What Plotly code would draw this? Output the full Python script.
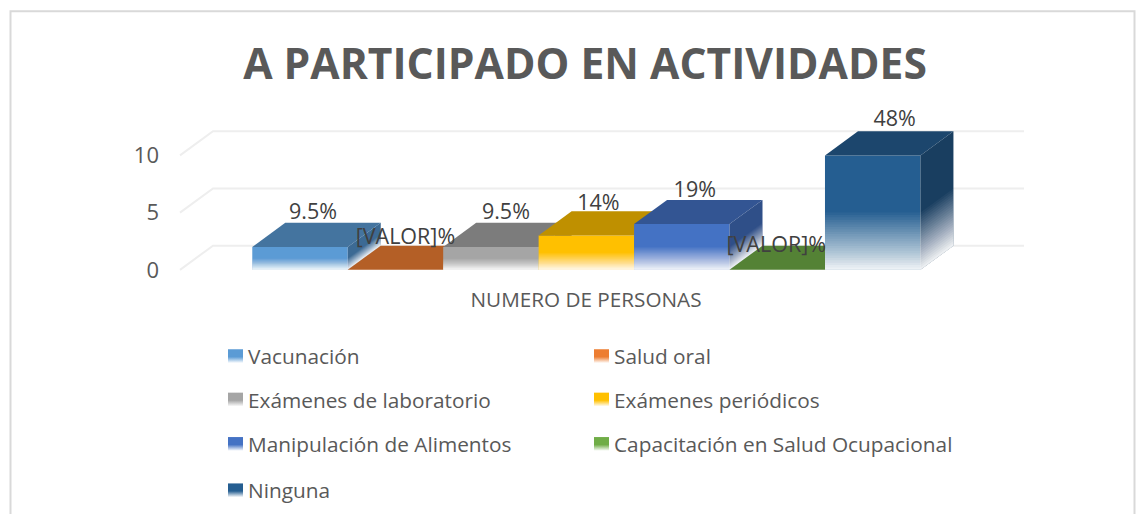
import plotly.graph_objects as go

# ---- data ----
categories = ["Vacunación", "Salud oral", "Exámenes de laboratorio", "Exámenes periódicos",
              "Manipulación de Alimentos", "Capacitación en Salud Ocupacional", "Ninguna"]
values = [2, 0, 2, 3, 4, 0, 10]
labels = ["9.5%", "[VALOR]%", "9.5%", "14%", "19%", "[VALOR]%", "48%"]
y_ticks = [0, 5, 10]
axis_title = "NUMERO DE PERSONAS"
chart_title = "A PARTICIPADO EN ACTIVIDADES"

# ---- style ----
front = ["#5b9bd5", "#ed7d31", "#a5a5a5", "#ffc000", "#4472c4", "#70ad47", "#255e91"]
top_c = ["#44749f", "#b45f26", "#7c7c7c", "#bf9000", "#335593", "#548235", "#1c466d"]
side_c = ["#3c6a94", "#a55722", "#717171", "#ae8300", "#2f4f88", "#4d7731", "#193e60"]
W, H = 1145, 521
PL, PR, PT, PB = 148, 1024, 90, 280   # plot box in pixels
XPX = 95.45  # px per category
YPX = 11.6   # px per unit
X0PX, Y0PX = 300, 273.5
xrange_ = [(PL - X0PX) / XPX, (PR - X0PX) / XPX]
yrange_ = [(Y0PX - PB) / YPX, (Y0PX - PT) / YPX]
DX = 33 / XPX    # depth offset in x units
DY = 24.5 / YPX  # depth offset in y units
HW = 0.5
# label offsets from the back-top edge, in pixels
label_dx = [13, 10, 15, 12, 13, -1, 22]
label_dy = [9.5, 7, 9.5, 7, 8.5, -1, 11]
FONT = "Open Sans"

fig = go.Figure()

# receding gridlines
gx, gy = [], []
g_left = (180 - X0PX) / XPX
g_right = (1024 - X0PX) / XPX
for t in y_ticks:
    gx += [g_left, g_left + DX, g_right, None]
    gy += [t, t + DY, t + DY, None]
fig.add_trace(go.Scatter(x=gx, y=gy, mode="lines", line=dict(color="#eeeeee", width=2),
                         hoverinfo="skip", showlegend=False, cliponaxis=False))

N_BANDS = 24
MAX_VEIL = 0.92
for i, (name, v) in enumerate(zip(categories, values)):
    xa = "x" if i == 0 else f"x{i+1}"
    l, r = i - HW, i + HW
    fig.add_trace(go.Bar(x=[i], y=[v], width=1, name=name, xaxis=xa, yaxis="y",
                         marker=dict(color=front[i], line=dict(width=0)), showlegend=False))
    # top face
    fig.add_trace(go.Scatter(x=[l, l + DX, r + DX, r, l], y=[v, v + DY, v + DY, v, v],
                             mode="lines", line=dict(width=0), fill="toself", fillcolor=top_c[i],
                             xaxis=xa, yaxis="y", hoverinfo="skip", showlegend=False, cliponaxis=False))
    if v > 0:
        # side face
        fig.add_trace(go.Scatter(x=[r, r + DX, r + DX, r, r], y=[0, DY, v + DY, v, 0],
                                 mode="lines", line=dict(width=0), fill="toself", fillcolor=side_c[i],
                                 xaxis=xa, yaxis="y", hoverinfo="skip", showlegend=False, cliponaxis=False))
        # fade towards the floor: stacked white veils building a linear ramp
        prev = 0.0
        for k in range(1, N_BANDS + 1):
            target = MAX_VEIL * k / N_BANDS
            alpha = 1 - (1 - target) / (1 - prev)
            prev = target
            lv = v * 0.5 * (N_BANDS - k + 1) / N_BANDS
            fig.add_trace(go.Scatter(x=[l, r, r + DX, r + DX, r, l, l],
                                     y=[0, 0, DY, lv + DY, lv, lv, 0],
                                     mode="lines", line=dict(width=0), fill="toself",
                                     fillcolor=f"rgba(255,255,255,{alpha:.4f})",
                                     xaxis=xa, yaxis="y", hoverinfo="skip", showlegend=False, cliponaxis=False))

# data labels on top of everything
fig.add_trace(go.Scatter(
    x=[i + label_dx[i] / XPX for i in range(len(values))],
    y=[values[i] + DY + label_dy[i] / YPX for i in range(len(values))],
    text=labels, mode="text", textposition="middle center",
    textfont=dict(family=FONT, size=21.5, color="#404040"),
    xaxis="x7", yaxis="y", hoverinfo="skip", showlegend=False, cliponaxis=False))

# legend drawn in a pixel-space helper axis
leg_col_sw = [228, 594]
leg_col_tx = [246, 612]
leg_rows = [361, 405, 450, 497]
annotations = []
for i, name in enumerate(categories):
    row, col = i // 2, i % 2
    sx, cy = leg_col_sw[col], leg_rows[row]
    fig.add_trace(go.Scatter(x=[sx, sx + 15, sx + 15, sx, sx], y=[cy - 7, cy - 7, cy + 7, cy + 7, cy - 7],
                             mode="lines", line=dict(width=0), fill="toself",
                             fillgradient=dict(type="vertical",
                                               colorscale=[[0, "#ffffff"], [0.45, front[i]], [1, front[i]]]),
                             xaxis="x8", yaxis="y2", hoverinfo="skip", showlegend=False))
    annotations.append(dict(x=leg_col_tx[col], y=cy, xref="x8", yref="y2", text=name, showarrow=False,
                            xanchor="left", yanchor="middle",
                            font=dict(family=FONT, size=20.8, color="#595959")))

axis_base = dict(range=xrange_, domain=[PL / W, PR / W], showgrid=False, zeroline=False, showline=False,
                 showticklabels=False, ticks="", fixedrange=True)
layout = dict(
    width=W, height=H, autosize=False,
    margin=dict(l=0, r=0, t=0, b=0, pad=0),
    paper_bgcolor="white", plot_bgcolor="rgba(0,0,0,0)",
    barmode="overlay", showlegend=False,
    title=dict(text=f"<b>{chart_title}</b>", x=585 / W, xanchor="center", y=1 - 64 / H, yanchor="middle",
               font=dict(family=FONT, size=42.6, color="#595959")),
    xaxis=dict(**axis_base, anchor="y",
               title=dict(text=axis_title, standoff=16, font=dict(family=FONT, size=20.7, color="#595959"))),
    yaxis=dict(range=yrange_, domain=[1 - PB / H, 1 - PT / H], showgrid=False, zeroline=False, showline=False,
               tickvals=y_ticks, ticks="", ticklabelstandoff=3, anchor="free", position=162 / W,
               tickfont=dict(family=FONT, size=22, color="#595959"), fixedrange=True),
    xaxis8=dict(range=[0, W], domain=[0, 1], anchor="y2", visible=False, fixedrange=True),
    yaxis2=dict(range=[H, 0], domain=[0, 1], anchor="x8", visible=False, fixedrange=True),
    annotations=annotations,
    shapes=[dict(type="rect", xref="x8", yref="y2", x0=10.5, x1=1134.5, y0=11.5, y1=540,
                 line=dict(color="#d9d9d9", width=2), fillcolor="rgba(0,0,0,0)", layer="below")],
)
for k in range(2, 8):
    layout[f"xaxis{k}"] = dict(**axis_base, overlaying="x", anchor="y")
fig.update_layout(**layout)

fig.write_html("out.html", config={"displayModeBar": False},
               post_script="document.body.style.margin='0';document.body.style.overflow='hidden';")
